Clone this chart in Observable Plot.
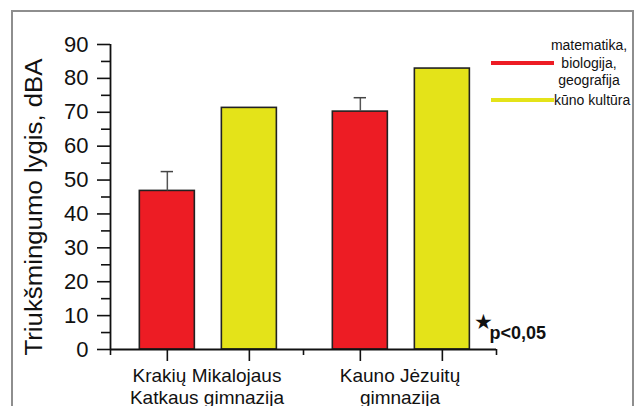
<!DOCTYPE html>
<html>
<head>
<meta charset="utf-8">
<script src="https://cdn.jsdelivr.net/npm/d3@7"></script>
<script src="https://cdn.jsdelivr.net/npm/@observablehq/plot@0.6"></script>
<style>
  html, body { margin: 0; padding: 0; background: #fff; }
  #wrap { position: relative; width: 644px; height: 406px; overflow: hidden; background: #fff; }
  #border { position: absolute; left: 11px; top: 10px; width: 623px; height: 430px; border: 2px solid #8e8e8e; box-sizing: border-box; pointer-events: none; }
  #chart { position: absolute; left: 0; top: 0; }
  svg { overflow: visible; }
</style>
</head>
<body>
<div id="wrap"><div id="border"></div><div id="chart"></div></div>
<script>
// ---- data ----
const schools = ["Krakių Mikalojaus\nKatkaus gimnazija", "Kauno Jėzuitų\ngimnazija"];
const subjects = ["matematika,\nbiologija,\ngeografija", "kūno kultūra"];
const subjectColors = ["#ED1C24", "#E4E319"];
const mathValues = [46.8, 70.2];
const mathErrors = [5.7, 4.1];
const peValues = [71.3, 82.9];
const peErrors = [0, 0];
const yTicks = [0, 10, 20, 30, 40, 50, 60, 70, 80, 90];
const yMinorTicks = [5, 15, 25, 35, 45, 55, 65, 75, 85];
const yLabel = "Triukšmingumo lygis, dBA";
const note = "p<0,05";

// ---- table built from arrays ----
const barGap = 0.425, barWidth = 0.285, capHalf = 0.032;
const rows = [];
schools.forEach((s, i) => {
  [mathValues, peValues].forEach((vals, j) => {
    const err = (j === 0 ? mathErrors : peErrors)[i];
    const c = i + (j - 0.5) * barGap + 0.007;
    rows.push({school: s, subject: subjects[j], color: subjectColors[j], value: vals[i], err, c, x1: c - barWidth / 2, x2: c + barWidth / 2});
  });
});
const errRows = rows.filter(d => d.err > 0);
const groupRows = schools.map((s, i) => ({name: s, pos: i}));
const boundaries = d3.range(schools.length + 1).map(i => i - 0.5);

const chart = Plot.plot({
  width: 644,
  height: 406,
  marginLeft: 110,
  marginRight: 148,
  marginTop: 44,
  marginBottom: 57,
  x: {domain: [-0.5, schools.length - 0.5]},
  y: {domain: [0, 90]},
  style: {fontFamily: "'Liberation Sans', Arial, sans-serif", background: "transparent", color: "#111"},
  marks: [
    Plot.rect(rows, {x1: "x1", x2: "x2", y1: 0, y2: "value", fill: "color", stroke: "#222", strokeWidth: 1.6}),
    Plot.ruleX(errRows, {x: "c", y1: "value", y2: d => d.value + d.err, stroke: "#555", strokeWidth: 1.5}),
    Plot.ruleY(errRows, {x1: d => d.c - capHalf, x2: d => d.c + capHalf, y: d => d.value + d.err, stroke: "#444", strokeWidth: 1.5}),
    Plot.ruleX([-0.5], {y1: 0, y2: 90, stroke: "#111", strokeWidth: 1.8}),
    Plot.ruleY([0], {stroke: "#111", strokeWidth: 1.8}),
    Plot.axisY({ticks: yTicks, tickSize: 13, tickPadding: 9, fontSize: 22, label: null, strokeWidth: 1.6, color: "#111"}),
    Plot.axisY({ticks: yMinorTicks, tickSize: 9, tickFormat: () => "", label: null, strokeWidth: 1.6, color: "#111"}),
    Plot.axisX({ticks: rows.map(d => d.c), tickSize: 12, tickFormat: () => "", label: null, strokeWidth: 1.6, color: "#111"}),
    Plot.axisX({ticks: boundaries, tickSize: 6, tickFormat: () => "", label: null, strokeWidth: 1.6, color: "#111"}),
    Plot.text(groupRows, {x: "pos", frameAnchor: "bottom", text: "name", dy: 17, textAnchor: "middle", lineAnchor: "top", fontSize: 19, lineHeight: 1.15, fill: "#111"}),
    Plot.text([yLabel], {frameAnchor: "left", text: d => d, rotate: -90, dx: -76, dy: 10, textAnchor: "middle", lineAnchor: "middle", fontSize: 23, fill: "#111"}),
    Plot.text(["★"], {frameAnchor: "bottom-right", text: d => d, dx: -13, dy: -27, textAnchor: "middle", lineAnchor: "middle", fontSize: 21, fill: "#111"}),
    Plot.text([note], {frameAnchor: "bottom-right", text: d => d, textAnchor: "start", lineAnchor: "middle", dx: -7, dy: -16, fontSize: 18, fontWeight: "bold", fill: "#111"})
  ]
});

// stretch the y label to the reference's length
d3.select(chart).selectAll("text").filter(function() { return this.textContent === yLabel; })
  .attr("textLength", 297).attr("lengthAdjust", "spacingAndGlyphs");

// legend
const svg = d3.select(chart);
const lg = svg.append("g").attr("font-family", "'Liberation Sans', Arial, sans-serif").attr("font-size", 14).attr("fill", "#111");
const lineX1 = 491, lineX2 = 554;
const legendY = [63, 100];
subjects.forEach((s, j) => {
  lg.append("line").attr("x1", lineX1).attr("x2", lineX2).attr("y1", legendY[j]).attr("y2", legendY[j])
    .attr("stroke", subjectColors[j]).attr("stroke-width", 4);
  const lines = s.split("\n");
  const t = lg.append("text").attr("text-anchor", lines.length > 1 ? "middle" : "start");
  lines.forEach((ln, k) => {
    t.append("tspan").attr("x", lines.length > 1 ? 589 : lineX2).attr("y", legendY[j] - (lines.length - 1) / 2 * 17.5 + k * 17.5).attr("dy", "0.35em").text(ln);
  });
});

document.getElementById("chart").appendChild(chart);
</script>
</body>
</html>
